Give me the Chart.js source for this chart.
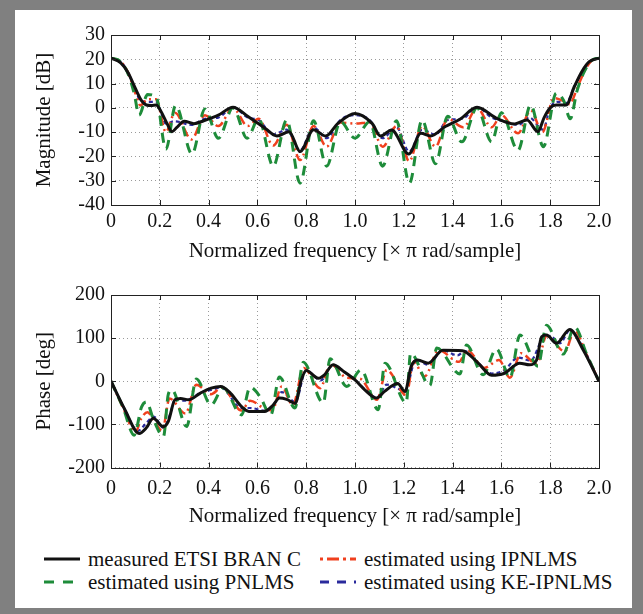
<!DOCTYPE html>
<html>
<head>
<meta charset="utf-8">
<script src="https://cdn.jsdelivr.net/npm/chart.js@4/dist/chart.umd.min.js"></script>
<style>
  body { margin: 0; background: #808080; width: 643px; height: 614px; overflow: hidden; font-family: "Liberation Serif", "Times New Roman", serif; }
  #panel { position: absolute; left: 15px; top: 10px; width: 617px; height: 598px; background: #fff; }
  canvas { position: absolute; left: 0; }
  #magChart { top: 0; }
  #phaseChart { top: 260px; }
  .leg { position: absolute; font-size: 21px; line-height: 24px; white-space: nowrap; color: #111; }
  .leg svg { position: absolute; left: 0; top: 0; }
  .leg span { position: absolute; top: 0; }
</style>
</head>
<body>
<div id="panel">
  <canvas id="magChart" width="617" height="262"></canvas>
  <canvas id="phaseChart" width="617" height="264"></canvas>
  <div id="legend"></div>
</div>
<script>
// frequency axis ticks (x pi rad/sample)
const freqTicks = [0, 0.2, 0.4, 0.6, 0.8, 1.0, 1.2, 1.4, 1.6, 1.8, 2.0];

// magnitude [dB]
const magFreqMeasured = [0, 0.04, 0.07, 0.1, 0.125, 0.145, 0.165, 0.185, 0.205, 0.23, 0.25, 0.27, 0.3, 0.34, 0.38, 0.44, 0.5, 0.56, 0.63, 0.68, 0.73, 0.775, 0.83, 0.88, 0.93, 1.0, 1.07, 1.105, 1.15, 1.22, 1.27, 1.31, 1.37, 1.43, 1.5, 1.58, 1.655, 1.705, 1.75, 1.775, 1.8, 1.825, 1.865, 1.9, 1.93, 1.96, 2.0];
const magMeasured = [20.5, 18.5, 14.5, 8, 3, 1.2, 1, 1.2, -1.5, -6.5, -9.8, -8, -5.5, -6.5, -5.3, -3, 0.3, -3.5, -8.3, -11.6, -9.8, -18, -9, -11.6, -6.4, -2.3, -6.4, -11.6, -9.1, -19, -10.5, -11.6, -7.7, -4.7, 0.2, -4.3, -6.6, -5, -9.8, -4, 0, 1.2, 1.2, 9, 15, 19, 20.5];

const magFreqPnlms = [0, 0.04, 0.07, 0.095, 0.115, 0.15, 0.185, 0.225, 0.265, 0.332, 0.385, 0.44, 0.5, 0.558, 0.605, 0.665, 0.72, 0.775, 0.83, 0.884, 0.94, 1.0, 1.06, 1.113, 1.17, 1.223, 1.275, 1.33, 1.38, 1.438, 1.5, 1.56, 1.6, 1.668, 1.72, 1.772, 1.825, 1.855, 1.882, 1.91, 1.94, 1.97, 2.0];
const magPnlms = [20.5, 19, 14, 6, -3, 5.5, 4.5, -17, 1, -19, -0.5, -12.5, 0, -12.5, -4.5, -24, -5, -31, -5.3, -24, -5.7, -12.5, -5.7, -24, -5.3, -31, -5, -23, -3.5, -14, 0, -14, -2, -17.5, 1.2, -16, 6, 3, -4.5, 7, 15, 19.5, 20.5];

const magFreqIpnlms = [0, 0.04, 0.07, 0.1, 0.12, 0.15, 0.185, 0.225, 0.262, 0.33, 0.385, 0.44, 0.5, 0.56, 0.605, 0.665, 0.72, 0.775, 0.83, 0.884, 0.94, 1.0, 1.06, 1.113, 1.17, 1.222, 1.275, 1.33, 1.38, 1.444, 1.5, 1.56, 1.6, 1.668, 1.72, 1.768, 1.815, 1.85, 1.88, 1.91, 1.94, 1.97, 2.0];
const magIpnlms = [20.5, 19, 14.5, 6, 1, 3.5, 3.5, -10, -2, -13, -3, -7.5, 0, -7.5, -4.5, -15.5, -7, -21.5, -7.5, -16, -6, -6.5, -6, -16, -7.5, -22, -7.5, -16, -4.5, -8, 0, -8, -3, -10.5, -1, -10, 4, 3, 1.5, 8, 15, 19.5, 20.5];

const magFreqKe = [0, 0.04, 0.07, 0.1, 0.12, 0.15, 0.185, 0.225, 0.26, 0.33, 0.385, 0.44, 0.5, 0.56, 0.605, 0.665, 0.72, 0.775, 0.83, 0.884, 0.94, 1.0, 1.06, 1.113, 1.17, 1.222, 1.275, 1.33, 1.38, 1.44, 1.5, 1.56, 1.61, 1.668, 1.715, 1.77, 1.8, 1.83, 1.865, 1.9, 1.94, 1.97, 2.0];
const magKe = [20.5, 19, 14.5, 7.5, 3, 2.5, 2.5, -6.5, -5.5, -7, -4.5, -4, 0.3, -4, -5, -11, -9, -17.5, -8, -12.5, -5, -3, -5, -12.5, -8, -18, -9, -11, -5, -4.5, 0.3, -4, -5.5, -7, -4, -9, 0, 2.5, 2, 9, 16, 19.5, 20.5];

// phase [deg]
const phFreqMeasured = [0, 0.057, 0.115, 0.145, 0.173, 0.214, 0.235, 0.262, 0.285, 0.318, 0.365, 0.41, 0.45, 0.49, 0.535, 0.565, 0.63, 0.665, 0.69, 0.72, 0.755, 0.78, 0.8, 0.85, 0.875, 0.91, 0.955, 1.0, 1.04, 1.088, 1.12, 1.175, 1.205, 1.23, 1.257, 1.3, 1.36, 1.44, 1.5, 1.56, 1.61, 1.675, 1.715, 1.744, 1.765, 1.785, 1.826, 1.88, 1.936, 2.0];
const phMeasured = [0, -66, -121, -108, -86, -105, -93, -43, -40, -43, -28, -16, -12, -28, -59, -70, -70, -55, -39, -42, -51, 3, 25, 7, 15, 38, 22, 3, -20, -39, -24, -5, -24, 34, 49, 42, 72, 71, 45, 14, 18, 42, 38, 49, 103, 107, 88, 120, 72, 0];

const phFreqPnlms = [0, 0.05, 0.095, 0.125, 0.145, 0.175, 0.215, 0.235, 0.25, 0.31, 0.35, 0.41, 0.46, 0.535, 0.57, 0.61, 0.655, 0.69, 0.754, 0.788, 0.87, 0.898, 0.966, 1.025, 1.095, 1.123, 1.21, 1.228, 1.307, 1.335, 1.43, 1.457, 1.525, 1.58, 1.635, 1.676, 1.75, 1.785, 1.853, 1.9, 1.95, 2.0];
const phPnlms = [0, -62, -125, -60, -48, -90, -128, -30, -20, -105, 5, -55, -15, -78, -14, -35, -78, 10, -62, 44, -50, 52, -12, 26, -66, 42, -50, 65, -10, 77, 17, 84, 15, 75, 8, 107, 35, 130, 63, 126, 62, 0];

const phFreqIpnlms = [0, 0.05, 0.1, 0.125, 0.15, 0.175, 0.21, 0.24, 0.305, 0.35, 0.41, 0.455, 0.535, 0.57, 0.625, 0.66, 0.7, 0.745, 0.79, 0.857, 0.9, 0.966, 1.02, 1.09, 1.13, 1.21, 1.24, 1.285, 1.343, 1.426, 1.46, 1.53, 1.59, 1.635, 1.68, 1.745, 1.785, 1.86, 1.9, 1.95, 2.0];
const phIpnlms = [0, -62, -118, -85, -72, -90, -115, -40, -75, -8, -30, -14, -68, -45, -62, -68, -12, -55, 31, -16, 40, 8, 6, -43, 26, -32, 45, 11, 72, 45, 72, 31, 49, 8, 65, 40, 105, 69, 118, 60, 0];

const phFreqKe = [0, 0.057, 0.11, 0.14, 0.175, 0.215, 0.24, 0.265, 0.3, 0.335, 0.365, 0.41, 0.45, 0.535, 0.57, 0.63, 0.665, 0.7, 0.755, 0.8, 0.86, 0.91, 0.955, 1.0, 1.04, 1.09, 1.13, 1.205, 1.25, 1.3, 1.36, 1.42, 1.45, 1.5, 1.56, 1.61, 1.67, 1.72, 1.77, 1.8, 1.84, 1.88, 1.94, 2.0];
const phKe = [0, -66, -115, -100, -82, -108, -80, -40, -45, -38, -27, -20, -15, -62, -62, -68, -55, -25, -48, 25, 2, 38, 22, 3, -18, -38, -8, -22, 50, 38, 72, 60, 70, 45, 18, 25, 55, 48, 100, 105, 88, 118, 72, 0];

const seriesNames = ['measured ETSI BRAN C', 'estimated using PNLMS', 'estimated using IPNLMS', 'estimated using KE-IPNLMS'];
const seriesColors = ['#111111', '#1e8c3a', '#f0401e', '#2a2a9c'];
const seriesDash = [[], [10, 7], [9, 4, 2, 4], [4, 3]];
const legendDash = [[], [10, 9], [3, 4, 12, 4], [9, 8]];
const seriesWidth = [3, 3, 2.5, 2.2];

const FONT = '"Liberation Serif", "Times New Roman", serif';

function pts(xs, ys) {
  return xs.map((x, i) => ({ x: x, y: ys[i] }));
}

function makeDatasets(sets) {
  return sets.map((d, i) => ({
    label: seriesNames[i],
    data: pts(d[0], d[1]),
    borderColor: seriesColors[i],
    borderWidth: seriesWidth[i],
    borderDash: seriesDash[i],
    pointRadius: 0,
    fill: false,
    cubicInterpolationMode: 'monotone'
  }));
}

// box around plot plus inward tick marks
const boxPlugin = {
  id: 'box',
  afterDraw(chart) {
    const { ctx, chartArea: a, scales } = chart;
    ctx.save();
    ctx.strokeStyle = '#222';
    ctx.lineWidth = 1;
    ctx.setLineDash([]);
    ctx.strokeRect(Math.round(a.left) + 0.5, Math.round(a.top) + 0.5, Math.round(a.right - a.left), Math.round(a.bottom - a.top));
    ctx.beginPath();
    scales.x.ticks.forEach(t => {
      const px = Math.round(scales.x.getPixelForValue(t.value)) + 0.5;
      ctx.moveTo(px, a.bottom); ctx.lineTo(px, a.bottom - 5);
      ctx.moveTo(px, a.top); ctx.lineTo(px, a.top + 5);
    });
    scales.y.ticks.forEach(t => {
      const py = Math.round(scales.y.getPixelForValue(t.value)) + 0.5;
      ctx.moveTo(a.left, py); ctx.lineTo(a.left + 5, py);
      ctx.moveTo(a.right, py); ctx.lineTo(a.right - 5, py);
    });
    ctx.stroke();
    ctx.restore();
  }
};

function makeChart(id, datasets, yMin, yMax, yStep, yTitle, xHeight, xTickPad, xTitlePad) {
  return new Chart(document.getElementById(id), {
    type: 'line',
    data: { datasets: datasets },
    options: {
      responsive: false,
      animation: false,
      layout: { padding: { left: 0, right: 33, top: 25, bottom: 0 } },
      plugins: { legend: { display: false }, tooltip: { enabled: false } },
      scales: {
        x: {
          type: 'linear',
          min: 0, max: 2,
          afterBuildTicks: s => { s.ticks = freqTicks.map(v => ({ value: v })); },
          afterFit: s => { s.height = xHeight; },
          ticks: {
            color: '#111',
            padding: xTickPad,
            autoSkip: false,
            font: { family: FONT, size: 20 },
            maxRotation: 0,
            callback: v => (v === 0 ? '0' : v.toFixed(1))
          },
          grid: { color: '#9a9a9a', lineWidth: 1, drawTicks: false },
          border: { display: false, dash: [1, 3] },
          title: {
            display: true,
            text: 'Normalized frequency [× π rad/sample]',
            color: '#111',
            font: { family: FONT, size: 21 },
            padding: { top: 0, bottom: xTitlePad }
          }
        },
        y: {
          min: yMin, max: yMax,
          afterFit: s => { s.width = 96; },
          ticks: {
            stepSize: yStep,
            autoSkip: false,
            color: '#111',
            padding: 6,
            font: { family: FONT, size: 20 }
          },
          grid: { color: '#9a9a9a', lineWidth: 1, drawTicks: false },
          border: { display: false, dash: [1, 3] },
          title: {
            display: true,
            text: yTitle,
            color: '#111',
            font: { family: FONT, size: 21 },
            padding: { top: 17, bottom: 0 }
          }
        }
      }
    },
    plugins: [boxPlugin]
  });
}

makeChart('magChart', makeDatasets([
  [magFreqMeasured, magMeasured],
  [magFreqPnlms, magPnlms],
  [magFreqIpnlms, magIpnlms],
  [magFreqKe, magKe]
]), -40, 30, 10, 'Magnitude [dB]', 67, 5, 8);

makeChart('phaseChart', makeDatasets([
  [phFreqMeasured, phMeasured],
  [phFreqPnlms, phPnlms],
  [phFreqIpnlms, phIpnlms],
  [phFreqKe, phKe]
]), -200, 200, 100, 'Phase [deg]', 66.5, 9, 5);

// legend: two columns, column-major order
const legendPos = [[29, 537], [29, 560], [305, 537], [305, 560]];
const legend = document.getElementById('legend');
seriesNames.forEach((name, i) => {
  const div = document.createElement('div');
  div.className = 'leg';
  div.style.left = legendPos[i][0] + 'px';
  div.style.top = legendPos[i][1] + 'px';
  const dash = legendDash[i].length ? legendDash[i].join(',') : 'none';
  div.innerHTML =
    '<svg width="40" height="24"><line x1="0" y1="12" x2="36" y2="12" stroke="' + seriesColors[i] +
    '" stroke-width="3" stroke-dasharray="' + dash + '"/></svg>' +
    '<span style="left:44px">' + name + '</span>';
  legend.appendChild(div);
});
</script>
</body>
</html>
